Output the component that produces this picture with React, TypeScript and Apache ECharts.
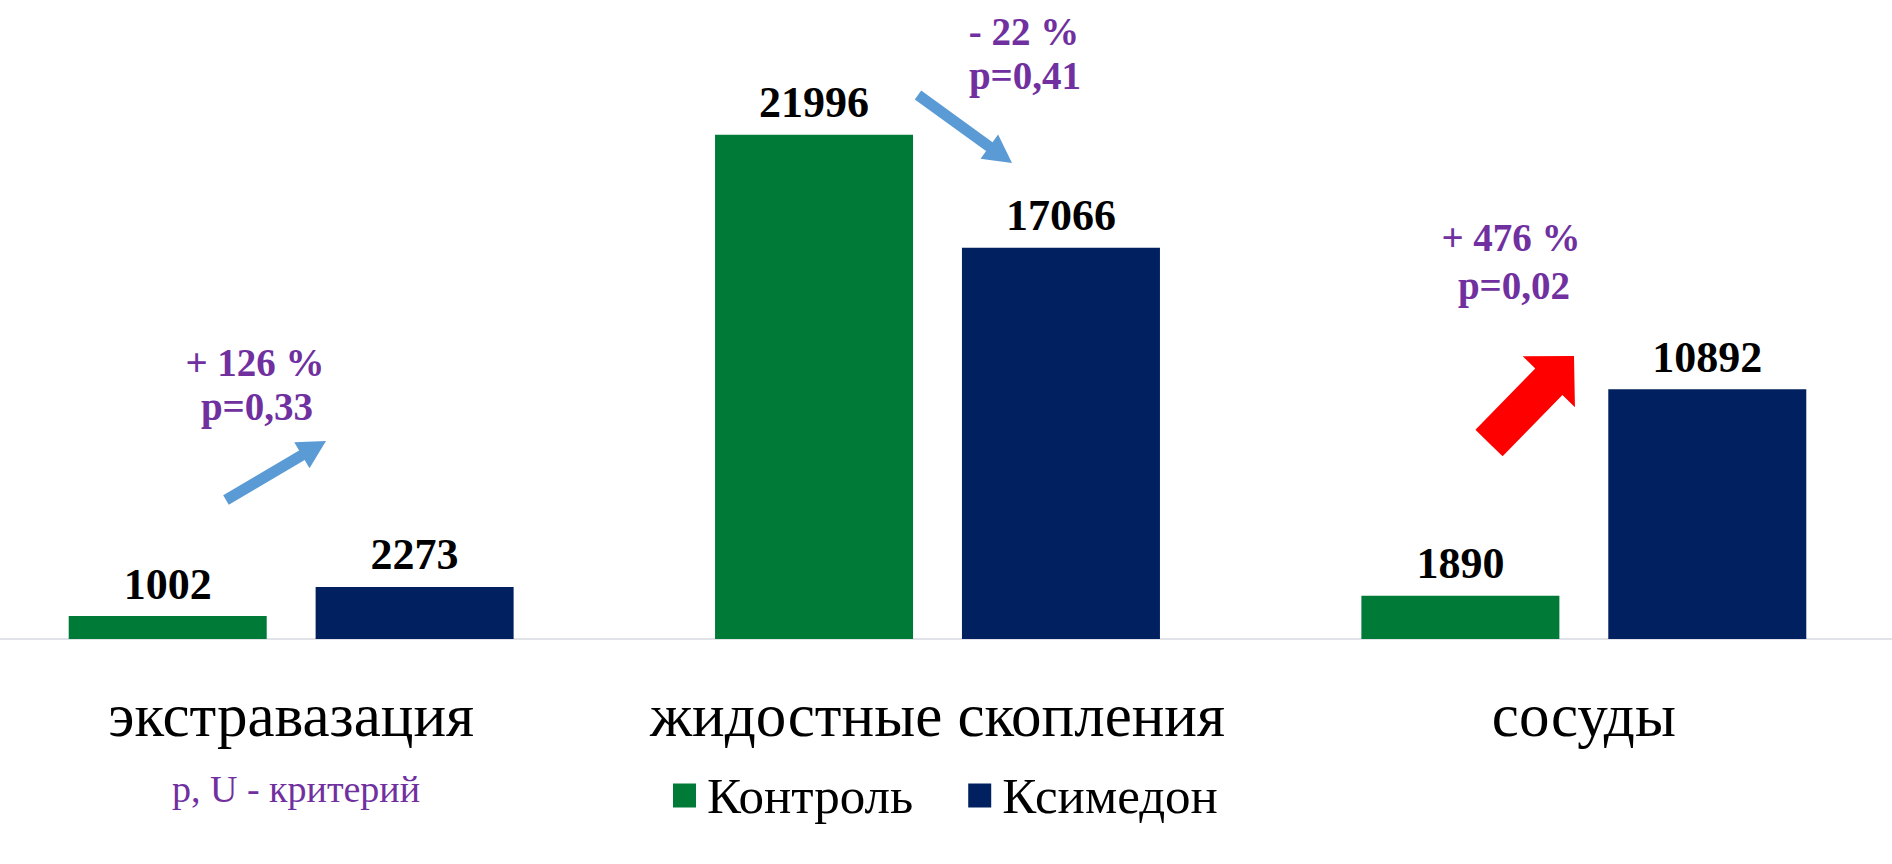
import React, { useEffect, useRef } from "react";
import * as echarts from "echarts";

const categories = ["экстравазация", "жидостные скопления", "сосуды"];
const seriesNames = ["Контроль", "Ксимедон"];
const controlValues = [1002, 21996, 1890];
const ksimedonValues = [2273, 17066, 10892];
const changeLabels = ["+ 126 %", "- 22 %", "+ 476 %"];
const pLabels = ["p=0,33", "p=0,41", "p=0,02"];
const footnote = "p, U - критерий";

const SERIF = "'Liberation Serif', 'Times New Roman', serif";
const PURPLE = "#7030A0";
// the chart's plot area starts slightly left of the visible page
const OFF_L = 32;
const OFF_R = 15;

function arrowPoints(
  tail: [number, number],
  tip: [number, number],
  shaftW: number,
  headW: number,
  headL: number
): number[][] {
  const t: [number, number] = [tail[0] + OFF_L, tail[1]];
  const h: [number, number] = [tip[0] + OFF_L, tip[1]];
  const dx = h[0] - t[0];
  const dy = h[1] - t[1];
  const len = Math.hypot(dx, dy);
  const ux = dx / len;
  const uy = dy / len;
  const nx = -uy;
  const ny = ux;
  const bx = h[0] - ux * headL;
  const by = h[1] - uy * headL;
  const p = (x: number, y: number, w: number) => [x + nx * w, y + ny * w];
  return [
    p(t[0], t[1], shaftW / 2),
    p(bx, by, shaftW / 2),
    p(bx, by, headW / 2),
    [h[0], h[1]],
    p(bx, by, -headW / 2),
    p(bx, by, -shaftW / 2),
    p(t[0], t[1], -shaftW / 2),
  ];
}

export default function App() {
  const ref = useRef<HTMLDivElement>(null);

  useEffect(() => {
    if (!ref.current) return;
    const chart = echarts.init(ref.current, undefined, { renderer: "svg" });

    const annText = (x: number, y: number, text: string) => ({
      type: "text",
      x: x + OFF_L,
      y,
      style: {
        text,
        fill: PURPLE,
        font: `bold 39px ${SERIF}`,
        textAlign: "center",
        textVerticalAlign: "middle",
      },
    });

    const labelStyle = {
      show: true,
      position: "top",
      distance: 10,
      fontFamily: SERIF,
      fontWeight: "bold",
      fontSize: 44,
      color: "#000",
    };

    chart.setOption({
      animation: false,
      backgroundColor: "#fff",
      grid: { left: 0, right: 0, top: 66, bottom: 225, containLabel: false },
      legend: {
        data: seriesNames,
        left: 668 + OFF_L,
        top: 765,
        icon: "rect",
        itemWidth: 23,
        itemHeight: 24,
        itemGap: 55,
        textStyle: {
          fontFamily: SERIF,
          fontSize: 51,
          color: "#000",
          padding: [0, 0, 0, 6],
        },
      },
      xAxis: {
        type: "category",
        data: categories,
        axisLine: { show: true, lineStyle: { color: "#e1e3e8", width: 2 } },
        axisTick: { show: false },
        axisLabel: {
          interval: 0,
          hideOverlap: false,
          fontFamily: SERIF,
          fontSize: 61,
          color: "#000",
          margin: 46,
        },
      },
      yAxis: {
        type: "value",
        min: 0,
        max: 25000,
        show: false,
        splitLine: { show: false },
      },
      series: [
        {
          name: seriesNames[0],
          type: "bar",
          data: controlValues,
          barWidth: 198,
          barGap: "24.7%",
          itemStyle: { color: "#007A37" },
          label: labelStyle,
        },
        {
          name: seriesNames[1],
          type: "bar",
          data: ksimedonValues,
          barWidth: 198,
          itemStyle: { color: "#002060" },
          label: labelStyle,
        },
      ],
      graphic: [
        annText(255, 362, changeLabels[0]),
        annText(257, 406, pLabels[0]),
        annText(1024, 31, changeLabels[1]),
        annText(1025, 75, pLabels[1]),
        annText(1511, 237, changeLabels[2]),
        annText(1514, 285, pLabels[2]),
        {
          type: "polygon",
          shape: { points: arrowPoints([226, 500], [326, 441], 11, 30, 28) },
          style: { fill: "#5B9BD5" },
        },
        {
          type: "polygon",
          shape: { points: arrowPoints([918, 95], [1012, 163], 11, 30, 28) },
          style: { fill: "#5B9BD5" },
        },
        {
          type: "polygon",
          shape: { points: arrowPoints([1489, 443], [1574, 356], 38, 73, 36) },
          style: { fill: "#FF0000" },
        },
        {
          type: "text",
          x: 296 + OFF_L,
          y: 789,
          style: {
            text: footnote,
            fill: PURPLE,
            font: `38px ${SERIF}`,
            textAlign: "center",
            textVerticalAlign: "middle",
          },
        },
      ],
    });

    return () => chart.dispose();
  }, []);

  return (
    <div
      ref={ref}
      style={{
        position: "fixed",
        left: -OFF_L,
        top: 0,
        width: 1892 + OFF_L + OFF_R,
        height: 864,
      }}
    />
  );
}
